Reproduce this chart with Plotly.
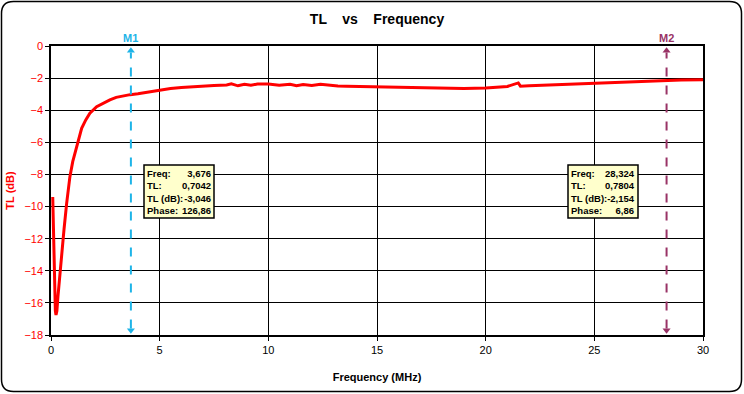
import plotly.graph_objects as go

freq = [0.08, 0.12, 0.16, 0.2, 0.23, 0.27, 0.32, 0.4, 0.49, 0.6, 0.72, 0.87, 1.0, 1.18, 1.41, 1.6,
        1.79, 2.1, 2.4, 2.71, 3.0, 3.3, 3.64, 4.0, 4.56, 5.0, 5.5, 6.0, 6.86, 7.5, 8.08, 8.3, 8.6,
        8.9, 9.2, 9.5, 10.0, 10.5, 11.0, 11.3, 11.6, 12.0, 12.4, 12.84, 13.2, 13.6, 14.5, 15.5,
        16.5, 17.5, 18.36, 19.0, 20.0, 21.0, 21.5, 21.6, 22.0, 23.0, 24.0, 25.0, 26.0, 27.0,
        28.3, 29.0, 30.0]
tl_db = [-9.4, -12.5, -15.5, -16.5, -16.75, -16.5, -15.6, -14.3, -12.9, -11.4, -9.8, -8.14, -7.2,
         -6.27, -5.13, -4.6, -4.19, -3.78, -3.55, -3.36, -3.2, -3.1, -3.03, -2.97, -2.84, -2.74,
         -2.65, -2.58, -2.49, -2.46, -2.43, -2.36, -2.48, -2.38, -2.45, -2.37, -2.37, -2.44, -2.38,
         -2.47, -2.40, -2.46, -2.39, -2.47, -2.49, -2.50, -2.53, -2.57, -2.60, -2.62, -2.64, -2.64,
         -2.62, -2.52, -2.30, -2.50, -2.47, -2.42, -2.36, -2.30, -2.26, -2.20, -2.154, -2.12, -2.10]

markers = ["M1", "M2"]
marker_freq = [3.676, 28.324]
marker_tl = ["0,7042", "0,7804"]
marker_db = ["-3,046", "-2,154"]
marker_phase = ["126,86", "6,86"]
marker_colors = ["#1EB4E8", "#993366"]

x_ticks = [0, 5, 10, 15, 20, 25, 30]
y_ticks = [0, -2, -4, -6, -8, -10, -12, -14, -16, -18]

FONT = "Liberation Sans, Arial, sans-serif"
L, R, T, B, W, H = 51, 41, 46, 59, 744, 394
pw, ph = W - L - R, H - T - B

def px(x):
    return (x - L) / pw

def py(y):
    return 1 - (y - T) / ph

fig = go.Figure()
fig.add_trace(go.Scatter(x=freq, y=tl_db, mode="lines", line=dict(color="#FF0000", width=3),
                         hoverinfo="skip", showlegend=False))

for name, f, c in zip(markers, marker_freq, marker_colors):
    fig.add_shape(type="line", x0=f, x1=f, y0=-17.6, y1=-0.4, xref="x", yref="y",
                  line=dict(color=c, width=2, dash="dash"))
    fig.add_trace(go.Scatter(x=[f, f], y=[-0.3, -17.7], mode="markers",
                             marker=dict(symbol=["triangle-up", "triangle-down"], size=7, color=c),
                             hoverinfo="skip", showlegend=False, cliponaxis=False))
    fig.add_annotation(x=f, y=1.0, xref="x", yref="paper", yanchor="bottom", yshift=0,
                       text=f"<b>{name}</b>", showarrow=False, font=dict(size=11, color=c))

bx = [144, 568]
BW = 70
for i, f in enumerate(marker_freq):
    x0 = bx[i]
    fig.add_shape(type="rect", xref="paper", yref="paper", x0=px(x0), x1=px(x0 + BW),
                  y0=py(218), y1=py(165), fillcolor="#FFFFCC", line=dict(color="black", width=1.5),
                  layer="above")
    fig.add_annotation(xref="paper", yref="paper", x=px(x0 + 2), y=py(191.5), xanchor="left",
                       yanchor="middle", align="left", showarrow=False, borderpad=0,
                       text="<b>Freq:</b><br><b>TL:</b><br><b>TL (dB):</b><br><b>Phase:</b>",
                       font=dict(size=9.5, color="black", family=FONT))
    fig.add_annotation(xref="paper", yref="paper", x=px(x0 + BW - 2), y=py(191.5), xanchor="right",
                       yanchor="middle", align="right", showarrow=False, borderpad=0,
                       text=(f"<b>{f:.3f}".replace(".", ",") + f"</b><br><b>{marker_tl[i]}</b><br>"
                             f"<b>{marker_db[i]}</b><br><b>{marker_phase[i]}</b>"),
                       font=dict(size=9.5, color="black", family=FONT))

# outer rounded border
x0, x1, y0, y1, r = px(1.5), px(W - 2.5), py(H - 2.5), py(1.5), 12
rx, ry = r / pw, r / ph
path = (f"M {x0+rx},{y1} L {x1-rx},{y1} Q {x1},{y1} {x1},{y1-ry} L {x1},{y0+ry} "
        f"Q {x1},{y0} {x1-rx},{y0} L {x0+rx},{y0} Q {x0},{y0} {x0},{y0+ry} "
        f"L {x0},{y1-ry} Q {x0},{y1} {x0+rx},{y1} Z")
fig.add_shape(type="path", path=path, xref="paper", yref="paper", line=dict(color="black", width=1.5))

fig.update_layout(
    width=W, height=H, margin=dict(l=L, r=R, t=T, b=B, autoexpand=False),
    paper_bgcolor="white", plot_bgcolor="white",
    font=dict(family=FONT, size=11, color="black"),
    title=dict(text="<b>TL    vs    Frequency</b>", x=0.5, xref="paper", y=1 - 19 / H,
               yanchor="middle", font=dict(size=14, color="black")),
    xaxis=dict(range=[0, 30], tickvals=x_ticks, ticks="outside", ticklen=4, tickcolor="black",
               showgrid=True, gridcolor="black", gridwidth=1, showline=True, linecolor="black",
               linewidth=1.5, mirror=True, zeroline=False, tickfont=dict(size=11), automargin=False,
               title=dict(text="<b>Frequency (MHz)</b>", font=dict(size=11), standoff=18)),
    yaxis=dict(range=[-18, 0], tickvals=y_ticks, ticks="outside", ticklen=4, tickcolor="black",
               showgrid=True, gridcolor="black", gridwidth=1, showline=True, linecolor="black",
               linewidth=1.5, mirror=True, zeroline=False, automargin=False,
               tickfont=dict(size=11, color="#FF0000"),
               title=dict(text="<b>TL (dB)</b>", font=dict(size=11, color="#FF0000"), standoff=8)),
)

fig.write_html("out.html", config={"displayModeBar": False},
               post_script="document.body.style.margin='0';document.body.style.overflow='hidden';")
